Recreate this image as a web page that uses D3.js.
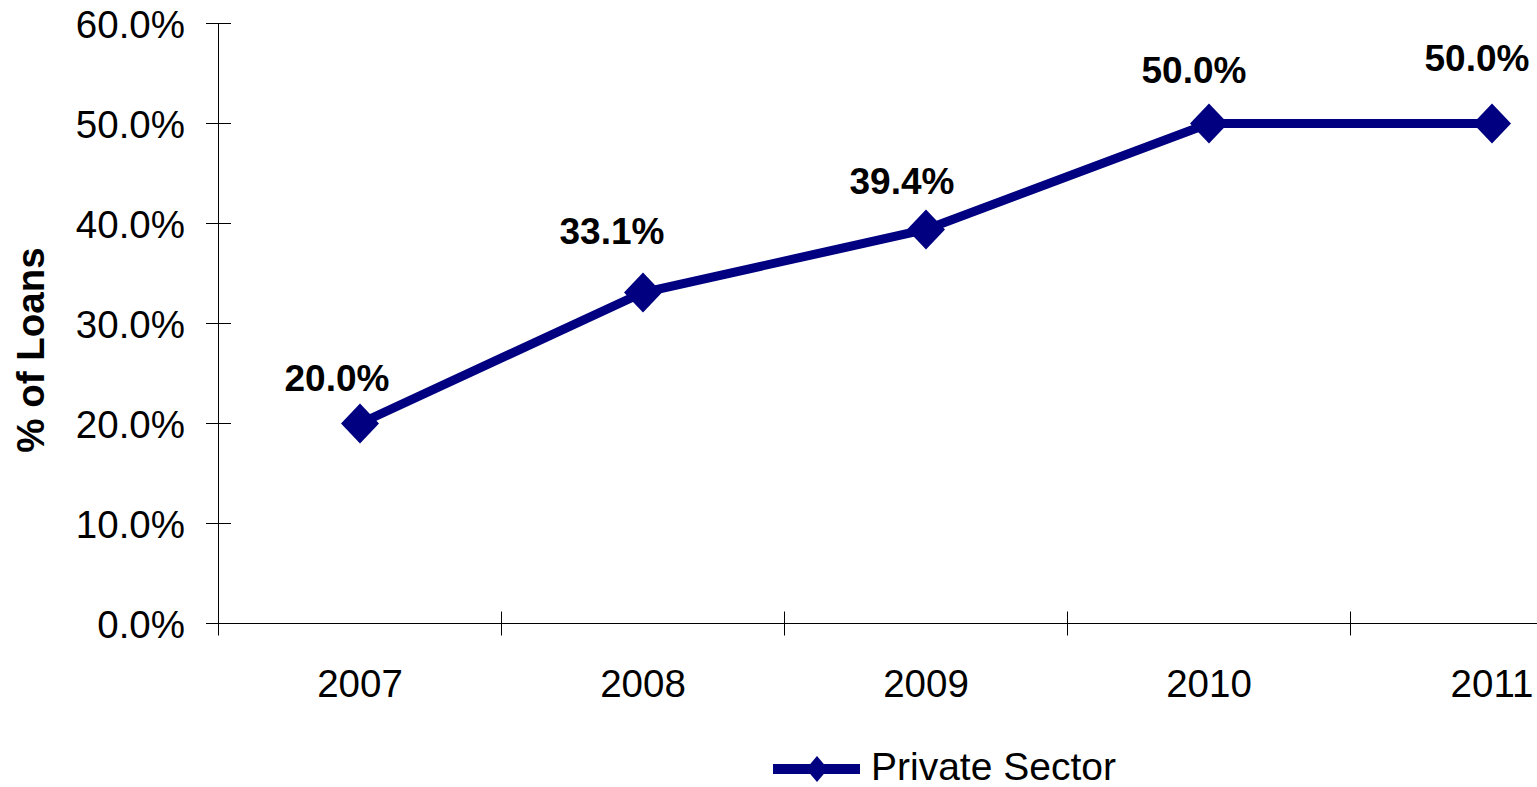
<!DOCTYPE html>
<html><head><meta charset="utf-8">
<script src="https://cdn.jsdelivr.net/npm/d3@7"></script>
<style>body{margin:0;background:#fff}svg{display:block}</style>
</head><body>
<script>
const categories = ["2007","2008","2009","2010","2011"];
const values = [20.0, 33.1, 39.4, 50.0, 50.0];
const valueLabels = ["20.0%","33.1%","39.4%","50.0%","50.0%"];
const yTicks = [0,10,20,30,40,50,60];
const seriesName = "Private Sector";
// manual label offsets (relative to point)
const labelDx = [-23,-31,-24,-15,-15];
const labelDy = [-33,-49,-36,-41,-53];

const W=1537,H=787;
const NAVY="#000080";
const FONT="'Liberation Sans', Arial, sans-serif";
const svg=d3.select("body").append("svg").attr("width",W).attr("height",H);
const x0=218.5, bw=283;
const x=d3.scaleBand().domain(categories).range([x0,x0+bw*5]).padding(0);
const y=d3.scaleLinear().domain([0,60]).range([623.5,23.5]);

// y axis
const gy=svg.append("g");
gy.append("line").attr("x1",x0).attr("x2",x0).attr("y1",y(60)).attr("y2",y(0)).attr("stroke","#000").attr("stroke-width",1);
gy.selectAll("line.t").data(yTicks).join("line").attr("class","t")
  .attr("x1",x0-12.5).attr("x2",x0+12.5).attr("y1",d=>y(d)).attr("y2",d=>y(d)).attr("stroke","#000");
gy.selectAll("text").data(yTicks).join("text")
  .attr("x",185).attr("y",d=>y(d)+14).attr("text-anchor","end")
  .attr("font-family",FONT).attr("font-size",38.5).text(d=>d3.format(".1f")(d)+"%");

// x axis
const gx=svg.append("g");
gx.append("line").attr("x1",x0-12.5).attr("x2",x0+bw*5).attr("y1",y(0)).attr("y2",y(0)).attr("stroke","#000");
const bounds=categories.map(c=>x(c)).concat([x0+bw*5]);
gx.selectAll("line.t").data(bounds).join("line").attr("class","t")
  .attr("x1",d=>d).attr("x2",d=>d).attr("y1",y(0)-12).attr("y2",y(0)+12).attr("stroke","#000");
gx.selectAll("text").data(categories).join("text")
  .attr("x",d=>x(d)+x.bandwidth()/2).attr("y",697).attr("text-anchor","middle")
  .attr("font-family",FONT).attr("font-size",38.5).text(d=>d);

// y title
svg.append("text").attr("transform","translate(44,350) rotate(-90)").attr("text-anchor","middle")
  .attr("font-family",FONT).attr("font-size",38.5).attr("font-weight","bold").text("% of Loans");

// line
const pts=categories.map((c,i)=>[x(c)+x.bandwidth()/2,y(values[i])]);
svg.append("path").attr("d",d3.line()(pts)).attr("fill","none").attr("stroke",NAVY).attr("stroke-width",9).attr("stroke-linejoin","miter");
const diamond=(cx,cy,r,ry)=>`M${cx},${cy-ry}L${cx+r},${cy}L${cx},${cy+ry}L${cx-r},${cy}Z`;
svg.selectAll("path.m").data(pts).join("path").attr("class","m")
  .attr("d",p=>diamond(p[0],p[1],19,20)).attr("fill",NAVY);
svg.selectAll("text.lbl").data(pts).join("text").attr("class","lbl")
  .attr("x",(p,i)=>p[0]+labelDx[i]).attr("y",(p,i)=>p[1]+labelDy[i]).attr("text-anchor","middle")
  .attr("font-family",FONT).attr("font-size",37).attr("font-weight","bold").text((p,i)=>valueLabels[i]);

// legend
const lg=svg.append("g");
lg.append("line").attr("x1",773).attr("x2",860).attr("y1",769).attr("y2",769).attr("stroke",NAVY).attr("stroke-width",10);
lg.append("path").attr("d",diamond(817,769,11,13)).attr("fill",NAVY);
lg.append("text").attr("x",871).attr("y",780).attr("font-family",FONT).attr("font-size",39).text(seriesName);
</script>
</body></html>
